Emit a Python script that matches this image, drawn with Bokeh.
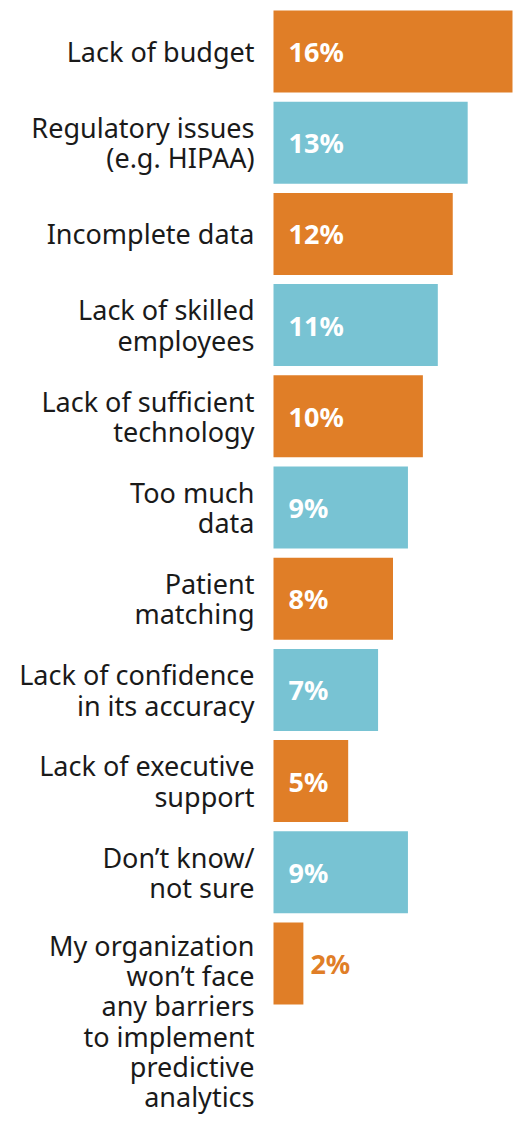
from bokeh.plotting import figure
from bokeh.models import ColumnDataSource, Range1d
from bokeh.core.properties import value
from bokeh.embed import file_html
from bokeh.resources import INLINE

categories = [
    "Lack of budget",
    "Regulatory issues\n(e.g. HIPAA)",
    "Incomplete data",
    "Lack of skilled\nemployees",
    "Lack of sufficient\ntechnology",
    "Too much\ndata",
    "Patient\nmatching",
    "Lack of confidence\nin its accuracy",
    "Lack of executive\nsupport",
    "Don\u2019t know/\nnot sure",
    "My organization\nwon\u2019t face\nany barriers\nto implement\npredictive\nanalytics",
]
values = [16, 13, 12, 11, 10, 9, 8, 7, 5, 9, 2]
value_labels = [f"{v}%" for v in values]

ORANGE = "#E07E27"
BLUE = "#78C3D3"
FONT = "Noto Sans"

W, H = 516, 1121
bar_left_px = 273
px_per_unit = 239 / 16
pitch = 91.2
first_center = 51

n = len(categories)
idx = list(range(n))
colors = [ORANGE if i % 2 == 0 else BLUE for i in idx]
inside = [v >= 4 for v in values]
lab_x = [0 if ins else v for v, ins in zip(values, inside)]
lab_off = [15 if ins else 7 for ins in inside]
lab_col = ["white" if ins else c for ins, c in zip(inside, colors)]

src = ColumnDataSource(dict(y=idx, v=values, cat=categories, lab=value_labels,
                            color=colors, lx=lab_x, loff=lab_off, lcol=lab_col))

x_start = -bar_left_px / px_per_unit
x_end = (W - bar_left_px) / px_per_unit
y_top = -first_center / pitch
y_bottom = (H - first_center) / pitch

p = figure(width=W, height=H, output_backend="svg", toolbar_location=None,
           x_range=Range1d(x_start, x_end), y_range=Range1d(y_bottom, y_top),
           min_border=0, outline_line_color=None)
p.axis.visible = False
p.grid.visible = False
p.background_fill_color = "white"
p.border_fill_color = "white"

p.hbar(y="y", left=0, right="v", height=82 / pitch, fill_color="color",
       line_color=None, source=src)

p.text(x="lx", y="y", text="lab", x_offset="loff", text_color="lcol",
       text_font=value(FONT), text_font_style="bold", text_font_size="27px",
       text_align="left", text_baseline="middle", source=src)

LH = 0.82
main = ColumnDataSource(dict(y=idx[:-1], cat=categories[:-1]))
p.text(x=0, y="y", text="cat", x_offset=-19, text_color="#1a1a1a",
       text_font=value(FONT), text_font_size="27px", text_line_height=LH,
       text_align="right", text_baseline="middle", source=main)

last = ColumnDataSource(dict(y=idx[-1:], cat=categories[-1:]))
p.text(x=0, y="y", text="cat", x_offset=-19, y_offset=-37, text_color="#1a1a1a",
       text_font=value(FONT), text_font_size="27px", text_line_height=LH,
       text_align="right", text_baseline="top", source=last)

open("out.html", "w").write(file_html(p, INLINE))
